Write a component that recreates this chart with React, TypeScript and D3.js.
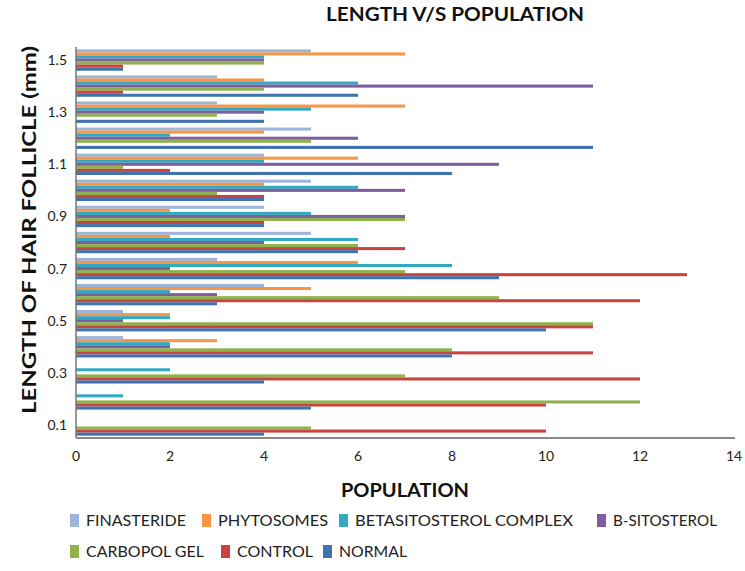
import React from "react";
import * as d3 from "d3";

const categories = ["0.1","0.2","0.3","0.4","0.5","0.6","0.7","0.8","0.9","1.0","1.1","1.2","1.3","1.4","1.5"];
const tickCategories = ["0.1","0.3","0.5","0.7","0.9","1.1","1.3","1.5"];
const xTicks = [0, 2, 4, 6, 8, 10, 12, 14];

const seriesNames = ["FINASTERIDE", "PHYTOSOMES", "BETASITOSTEROL  COMPLEX", "B-SITOSTEROL", "CARBOPOL GEL", "CONTROL", "NORMAL"];
const seriesColors = ["#9DB5D8", "#F79646", "#31A9C1", "#7E5E9E", "#8FB24F", "#C9443F", "#3E73AE"];

const finasteride = [0, 0, 0, 1, 1, 4, 3, 5, 4, 5, 4, 5, 3, 3, 5];
const phytosomes = [0, 0, 0, 3, 2, 5, 6, 2, 2, 4, 6, 4, 7, 4, 7];
const betasitosterolComplex = [0, 1, 2, 2, 2, 2, 8, 6, 5, 6, 4, 2, 5, 6, 4];
const bSitosterol = [0, 0, 0, 2, 1, 3, 2, 4, 7, 7, 9, 6, 4, 11, 4];
const carbopolGel = [5, 12, 7, 8, 11, 9, 7, 6, 7, 3, 1, 5, 3, 4, 4];
const control = [10, 10, 12, 11, 11, 12, 13, 7, 4, 4, 2, 0, 0, 1, 1];
const normal = [4, 5, 4, 8, 10, 3, 9, 6, 4, 4, 8, 11, 4, 6, 1];

const seriesValues = [finasteride, phytosomes, betasitosterolComplex, bSitosterol, carbopolGel, control, normal];

const W = 745, H = 571;
const left = 76, right = 734, top = 47, bottom = 438;
const font = "Lato, 'Open Sans', sans-serif";

export default function App() {
  const x = d3.scaleLinear().domain([0, 14]).range([left, right]);
  const y = d3.scaleBand<string>().domain([...categories].reverse()).range([top, bottom]).paddingInner(0.18).paddingOuter(0.09);
  const inner = d3.scaleBand<string>().domain(seriesNames).range([0, y.bandwidth()]);

  const legendRows = [
    [{ i: 0, sx: 70, tx: 86, w: 100 }, { i: 1, sx: 202, tx: 218, w: 110 }, { i: 2, sx: 339, tx: 355, w: 218 }, { i: 3, sx: 597, tx: 613, w: 104 }],
    [{ i: 4, sx: 70, tx: 86, w: 118 }, { i: 5, sx: 221, tx: 237, w: 76 }, { i: 6, sx: 323, tx: 339, w: 68 }],
  ];
  const legendY = [521, 552];

  return (
    <svg width={W} height={H} style={{ position: "absolute", left: 0, top: 0, background: "#fff" }} fontFamily={font}>
      <text x={455} y={21} textAnchor="middle" fontWeight="bold" fontSize={18} fill="#111" textLength={258} lengthAdjust="spacingAndGlyphs">LENGTH V/S  POPULATION</text>

      {seriesValues.map((vals, si) =>
        categories.map((c, ci) => (
          <rect
            key={`${si}-${ci}`}
            x={x(0)}
            y={(y(c) ?? 0) + (inner(seriesNames[si]) ?? 0)}
            width={Math.max(0, x(vals[ci]) - x(0))}
            height={inner.bandwidth()}
            fill={seriesColors[si]}
          />
        ))
      )}

      <line x1={left} x2={left} y1={top} y2={bottom} stroke="#777" strokeWidth={1.5} />
      <line x1={left} x2={right + 1} y1={bottom} y2={bottom} stroke="#888" strokeWidth={2} />

      {tickCategories.map((c) => (
        <text key={c} x={67} y={(y(c) ?? 0) + y.bandwidth() / 2 + 5} textAnchor="end" fontSize={14} fill="#222">{c}</text>
      ))}
      {xTicks.map((t) => (
        <text key={t} x={x(t)} y={461} textAnchor="middle" fontSize={14} fill="#222">{t}</text>
      ))}

      <text transform={`translate(36, 230) rotate(-90)`} textAnchor="middle" fontWeight="bold" fontSize={18} fill="#111" textLength={368} lengthAdjust="spacingAndGlyphs">LENGTH  OF HAIR FOLLICLE (mm)</text>
      <text x={405} y={497} textAnchor="middle" fontWeight="bold" fontSize={19} fill="#111" textLength={128} lengthAdjust="spacingAndGlyphs">POPULATION</text>

      {legendRows.map((row, ri) =>
        row.map((it) => (
          <g key={it.i}>
            <rect x={it.sx} y={legendY[ri] - 7} width={9} height={13} fill={seriesColors[it.i]} />
            <text x={it.tx} y={legendY[ri] + 5} fontSize={15} fill="#222" textLength={it.w} lengthAdjust="spacingAndGlyphs">{seriesNames[it.i]}</text>
          </g>
        ))
      )}
    </svg>
  );
}
